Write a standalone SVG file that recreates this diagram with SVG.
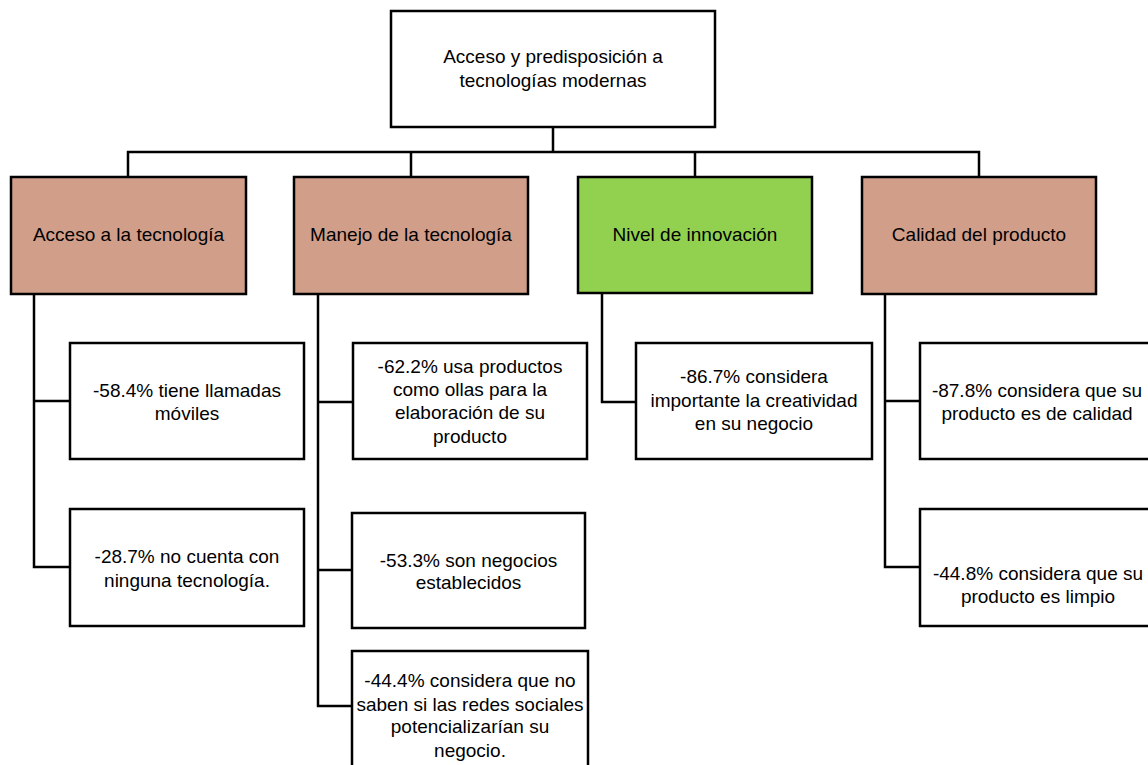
<svg xmlns="http://www.w3.org/2000/svg" width="1148" height="765" viewBox="0 0 1148 765">
<style>
.box{fill:#ffffff;stroke:#000000;stroke-width:2.5}
.pink{fill:#D19E8A;stroke:#000000;stroke-width:2.5}
.green{fill:#92D050;stroke:#000000;stroke-width:2.5}
.t{font-family:"Liberation Sans",Arial,sans-serif;font-size:19px;fill:#000000;text-anchor:middle}
.c{fill:none;stroke:#000000;stroke-width:2.5}
</style>
<rect width="1148" height="765" fill="#ffffff"/>
<g id="connectors">
<path class="c" d="M553,127 V152 M128,176 V152 H979 V176 M411,152 V176 M695,152 V176"/>
<path class="c" d="M34,294 V567 H70 M34,401 H70"/>
<path class="c" d="M318,294 V706 H352 M318,402 H353 M318,570 H352"/>
<path class="c" d="M602,293 V402 H636"/>
<path class="c" d="M885,294 V567 H920 M885,401 H920"/>
</g>
<g id="root">
<rect class="box" x="391" y="11" width="324" height="116"/>
<text class="t" x="553" y="63">Acceso y predisposición a</text>
<text class="t" x="553" y="87">tecnologías modernas</text>
</g>
<g id="acceso">
<rect class="pink" x="11" y="177" width="235" height="117"/>
<text class="t" x="128.5" y="241">Acceso a la tecnología</text>
</g>
<g id="manejo">
<rect class="pink" x="294" y="177" width="234" height="117"/>
<text class="t" x="411" y="241">Manejo de la tecnología</text>
</g>
<g id="nivel">
<rect class="green" x="578" y="177" width="234" height="116"/>
<text class="t" x="695" y="241">Nivel de innovación</text>
</g>
<g id="calidad">
<rect class="pink" x="862" y="177" width="234" height="117"/>
<text class="t" x="979" y="241">Calidad del producto</text>
</g>
<g id="a1">
<rect class="box" x="70" y="343" width="234" height="116"/>
<text class="t" x="187" y="397">-58.4% tiene llamadas</text>
<text class="t" x="187" y="420">móviles</text>
</g>
<g id="a2">
<rect class="box" x="70" y="509" width="234" height="117"/>
<text class="t" x="187" y="563">-28.7% no cuenta con</text>
<text class="t" x="187" y="587">ninguna tecnología.</text>
</g>
<g id="m1">
<rect class="box" x="353" y="343" width="234" height="116"/>
<text class="t" x="470" y="373">-62.2% usa productos</text>
<text class="t" x="470" y="396">como ollas para la</text>
<text class="t" x="470" y="419">elaboración de su</text>
<text class="t" x="470" y="443">producto</text>
</g>
<g id="m2">
<rect class="box" x="352" y="513" width="233" height="115"/>
<text class="t" x="468.5" y="567">-53.3% son negocios</text>
<text class="t" x="468.5" y="589">establecidos</text>
</g>
<g id="m3">
<rect class="box" x="352" y="651" width="236" height="120"/>
<text class="t" x="470" y="687">-44.4% considera que no</text>
<text class="t" x="470" y="711">saben si las redes sociales</text>
<text class="t" x="470" y="733">potencializarían su</text>
<text class="t" x="470" y="757">negocio.</text>
</g>
<g id="n1">
<rect class="box" x="636" y="343" width="236" height="116"/>
<text class="t" x="754" y="383">-86.7% considera</text>
<text class="t" x="754" y="407">importante la creatividad</text>
<text class="t" x="754" y="430">en su negocio</text>
</g>
<g id="c1">
<rect class="box" x="920" y="343" width="236" height="116"/>
<text class="t" x="1037" y="397">-87.8% considera que su</text>
<text class="t" x="1037" y="420">producto es de calidad</text>
</g>
<g id="c2">
<rect class="box" x="920" y="509" width="236" height="117"/>
<text class="t" x="1038" y="580">-44.8% considera que su</text>
<text class="t" x="1038" y="603">producto es limpio</text>
</g>
</svg>
